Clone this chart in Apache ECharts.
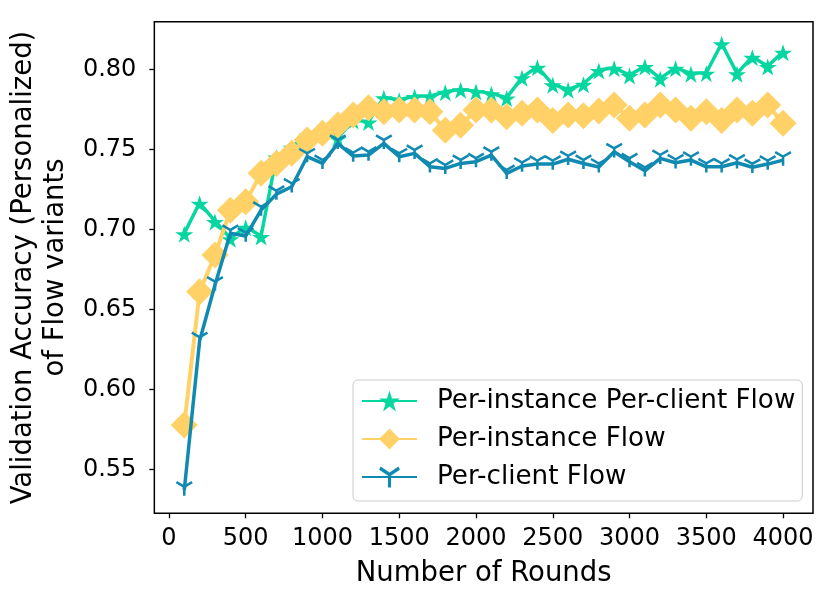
<!DOCTYPE html>
<html>
<head>
<meta charset="utf-8">
<script src="https://cdn.jsdelivr.net/npm/echarts@6/dist/echarts.min.js"></script>
<style>html,body{margin:0;padding:0;background:#fff;}#c{width:830px;height:602px;}</style>
</head>
<body>
<div id="c"></div>
<script>
var rounds = [100,200,300,400,500,600,700,800,900,1000,1100,1200,1300,1400,1500,1600,1700,1800,1900,2000,2100,2200,2300,2400,2500,2600,2700,2800,2900,3000,3100,3200,3300,3400,3500,3600,3700,3800,3900,4000];
var perInstancePerClient = [0.6975,0.7166,0.7052,0.6944,0.7016,0.6958,0.7454,0.7516,0.7590,0.7620,0.7570,0.7683,0.7673,0.7825,0.7810,0.7833,0.7833,0.7860,0.7875,0.7864,0.7850,0.7823,0.7950,0.8016,0.7906,0.7875,0.7910,0.7996,0.8010,0.7964,0.8020,0.7944,0.8010,0.7975,0.7979,0.8162,0.7975,0.8079,0.8020,0.8110];
var perInstance = [0.5777,0.6610,0.6840,0.7120,0.7173,0.7350,0.7412,0.7475,0.7558,0.7600,0.7652,0.7714,0.7760,0.7735,0.7746,0.7746,0.7735,0.7620,0.7650,0.7746,0.7746,0.7704,0.7725,0.7746,0.7680,0.7714,0.7710,0.7740,0.7777,0.7694,0.7714,0.7777,0.7746,0.7694,0.7735,0.7680,0.7746,0.7725,0.7777,0.7663];
var perClient = [0.5370,0.6304,0.6652,0.6975,0.6958,0.7120,0.7220,0.7266,0.7454,0.7412,0.7537,0.7458,0.7464,0.7537,0.7454,0.7475,0.7391,0.7381,0.7412,0.7423,0.7464,0.7350,0.7396,0.7408,0.7408,0.7438,0.7412,0.7390,0.7485,0.7423,0.7366,0.7444,0.7416,0.7433,0.7391,0.7391,0.7416,0.7388,0.7408,0.7433];
var xTicks = [0,500,1000,1500,2000,2500,3000,3500,4000];
var yTicks = [0.55,0.60,0.65,0.70,0.75,0.80];
var seriesNames = ['Per-instance Per-client Flow','Per-instance Flow','Per-client Flow'];

function pairs(vals){ return rounds.map(function(r,i){ return [r, vals[i]]; }); }

var starPath = 'path://M0 -1 L0.2245 -0.309 L0.9511 -0.309 L0.3633 0.118 L0.5878 0.809 L0 0.382 L-0.5878 0.809 L-0.3633 0.118 L-0.9511 -0.309 L-0.2245 -0.309 Z';
var triPath = 'path://M-0.14 -0.14 L0.14 -0.14 L0.14 1 L-0.14 1 Z M-0.0512 0.1912 L-0.1912 -0.0512 L0.796 -0.6212 L0.936 -0.3788 Z M0.1912 -0.0512 L0.0512 0.1912 L-0.936 -0.3788 L-0.796 -0.6212 Z';

var FONT = 'DejaVu Sans';
var chart = echarts.init(document.getElementById('c'), null, {renderer:'canvas'});
chart.setOption({
  animation: false,
  backgroundColor: '#ffffff',
  grid: {left:153.3, right:17, top:21.7, bottom:88.7, show:true, borderColor:'#000', borderWidth:1.5, backgroundColor:'transparent'},
  legend: {
    left: 353, top: 380,
    orient: 'vertical',
    data: seriesNames,
    itemWidth: 55, itemHeight: 26, itemGap: 12,
    padding: [8, 7, 11, 8],
    borderColor: '#cccccc', borderWidth: 1, borderRadius: 5,
    backgroundColor: 'rgba(255,255,255,0.8)',
    textStyle: {fontFamily: FONT, fontSize: 26.2, color: '#000', padding: [0,0,0,15]}
  },
  xAxis: {
    type: 'value', min: -95, max: 4195,
    name: 'Number of Rounds', nameLocation: 'middle', nameGap: 47,
    nameTextStyle: {fontFamily: FONT, fontSize: 27.5, color: '#000'},
    axisLine: {show: false, onZero: false},
    splitLine: {show: false},
    axisTick: {show: true, inside: false, length: 5, lineStyle: {color:'#000', width:1.3}, customValues: xTicks},
    axisLabel: {fontFamily: FONT, fontSize: 24, color:'#000', margin: 13, customValues: xTicks,
      formatter: function(v){ return String(Math.round(v)); }}
  },
  yAxis: {
    type: 'value', min: 0.5225, max: 0.8298,
    name: 'Validation Accuracy (Personalized)\nof Flow variants', nameLocation: 'middle', nameGap: 73, nameRotate: 90,
    nameTextStyle: {fontFamily: FONT, fontSize: 27.5, color: '#000', lineHeight: 32, align: 'center'},
    axisLine: {show: false, onZero: false},
    splitLine: {show: false},
    axisTick: {show: true, inside: false, length: 5, lineStyle: {color:'#000', width:1.3}, customValues: yTicks},
    axisLabel: {fontFamily: FONT, fontSize: 24, color:'#000', margin: 18, customValues: yTicks,
      formatter: function(v){ return v.toFixed(2); }}
  },
  series: [
    {
      name: seriesNames[0], type: 'line', data: pairs(perInstancePerClient),
      symbol: starPath, symbolSize: [18,17], symbolOffset: [0,'5.3%'], showAllSymbol: true,
      lineStyle: {color:'#06D6A0', width:3.5},
      itemStyle: {color:'#06D6A0'}, z: 2
    },
    {
      name: seriesNames[1], type: 'line', data: pairs(perInstance),
      symbol: 'diamond', symbolSize: 27, showAllSymbol: true,
      lineStyle: {color:'#FFD166', width:4},
      itemStyle: {color:'#FFD166'}, z: 3
    },
    {
      name: seriesNames[2], type: 'line', data: pairs(perClient),
      symbol: triPath, symbolSize: [17,14.7], symbolOffset: [0,'-11.7%'], showAllSymbol: true,
      lineStyle: {color:'#118AB2', width:3.5},
      itemStyle: {color:'#118AB2'}, z: 4
    }
  ]
});
</script>
</body>
</html>
